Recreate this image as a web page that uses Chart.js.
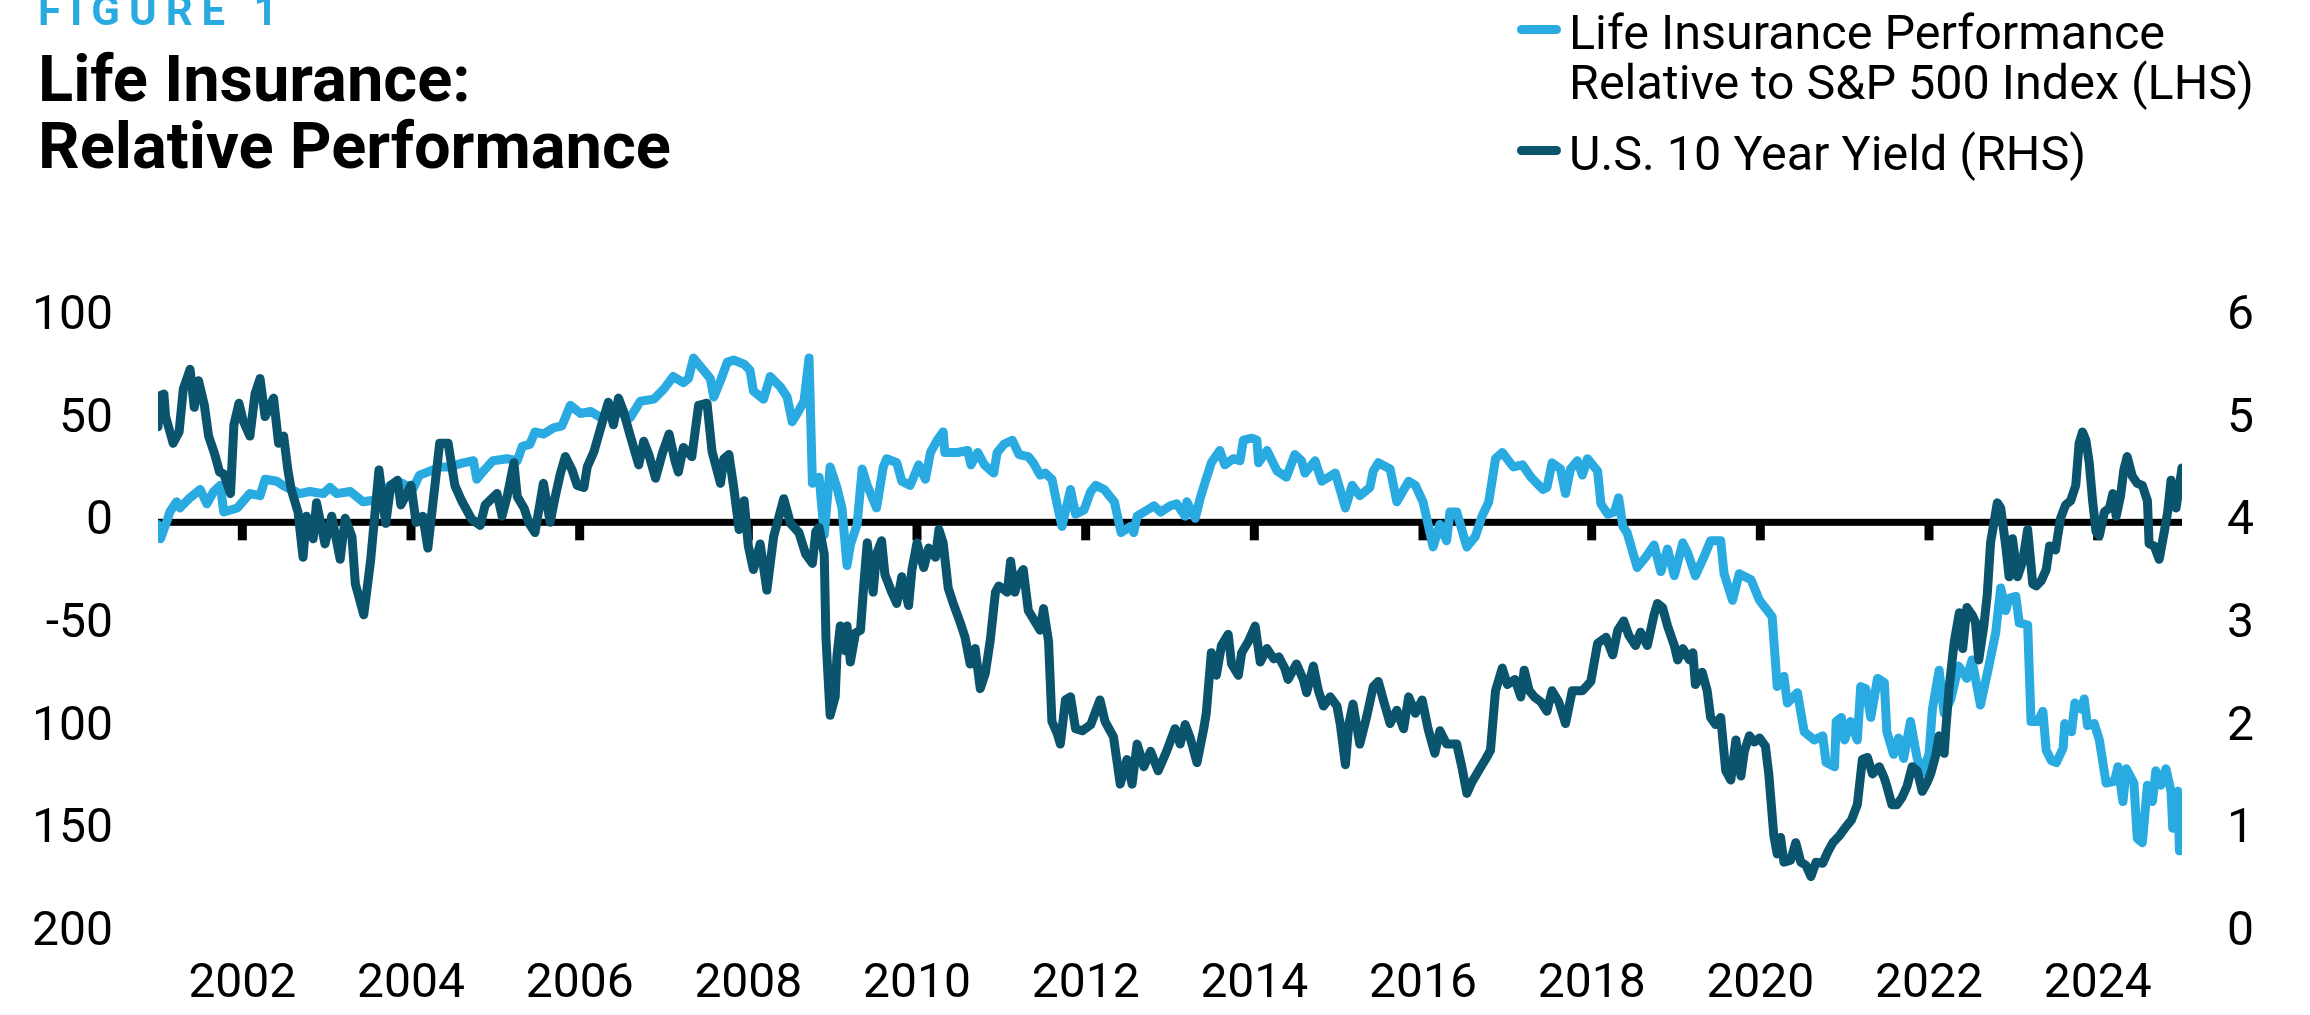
<!DOCTYPE html>
<html>
<head>
<meta charset="utf-8">
<title>Life Insurance: Relative Performance</title>
<script src="https://cdn.jsdelivr.net/npm/chart.js@4.4.1/dist/chart.umd.min.js"></script>
<style>
    body { margin: 0; background: #fff; }
    #wrap { position: relative; width: 2310px; height: 1015px; overflow: hidden; font-family: Roboto, sans-serif; }
    #lifechart { position: absolute; left: 0; top: 0; }
    .fig { position: absolute; left: 38px; top: -10px; font-size: 42px; line-height: 42px; font-weight: 700; letter-spacing: 9px; color: #29abe2; }
    .title { position: absolute; left: 38px; top: 46px; font-size: 65px; line-height: 67px; font-weight: 700; color: #000; }
    .legend { position: absolute; left: 1569px; font-size: 48.5px; line-height: 50px; color: #000; }
    .swatch { position: absolute; width: 44px; height: 9px; border-radius: 4.5px; }
</style>
</head>
<body>
<div id="wrap">
    <canvas id="lifechart" width="2310" height="1015"></canvas>
    <div class="fig">FIGURE 1</div>
    <div class="title">Life Insurance:<br>Relative Performance</div>
    <div class="swatch" style="left:1517px; top:25px; background:#29abe2"></div>
    <div class="legend" style="top:8px">Life Insurance Performance<br>Relative to S&amp;P 500 Index (LHS)</div>
    <div class="swatch" style="left:1517px; top:146px; background:#0b546e"></div>
    <div class="legend" style="top:129px">U.S. 10 Year Yield (RHS)</div>
</div>

<script>
// values
const lifeYears = [
    2001.00, 2001.03, 2001.10, 2001.14, 2001.22, 2001.26, 2001.38, 2001.50, 2001.58, 2001.66, 2001.74, 2001.78, 2001.94,
    2002.09, 2002.21, 2002.27, 2002.41, 2002.48, 2002.68, 2002.80, 2002.96,
    2003.04, 2003.12, 2003.28, 2003.43, 2003.60, 2003.75, 2003.90,
    2004.02, 2004.10, 2004.23, 2004.35, 2004.46, 2004.62, 2004.74, 2004.78, 2004.86, 2004.97,
    2005.14, 2005.26, 2005.32, 2005.41, 2005.47, 2005.57, 2005.69, 2005.79, 2005.89,
    2006.01, 2006.13, 2006.25, 2006.36, 2006.52, 2006.60, 2006.72, 2006.88,
    2007.00, 2007.11, 2007.23, 2007.29, 2007.35, 2007.47, 2007.55, 2007.59, 2007.67, 2007.75, 2007.83, 2007.95,
    2008.02, 2008.06, 2008.18, 2008.26, 2008.38, 2008.46, 2008.52, 2008.58, 2008.66, 2008.72, 2008.76, 2008.84, 2008.90, 2008.97,
    2009.05, 2009.11, 2009.17, 2009.21, 2009.29, 2009.35, 2009.41, 2009.52, 2009.60, 2009.64, 2009.76, 2009.82, 2009.92,
    2010.02, 2010.10, 2010.16, 2010.24, 2010.31, 2010.33, 2010.48, 2010.60, 2010.64, 2010.72, 2010.80, 2010.91, 2010.95,
    2011.03, 2011.13, 2011.21, 2011.32, 2011.38, 2011.46, 2011.52, 2011.60, 2011.66, 2011.72, 2011.82, 2011.88, 2011.98,
    2012.06, 2012.12, 2012.22, 2012.34, 2012.42, 2012.53, 2012.57, 2012.61, 2012.73, 2012.81, 2012.89,
    2013.00, 2013.08, 2013.18, 2013.20, 2013.30, 2013.36, 2013.42, 2013.49, 2013.59, 2013.65, 2013.75, 2013.83, 2013.87, 2013.97,
    2014.03, 2014.05, 2014.15, 2014.27, 2014.38, 2014.48, 2014.56, 2014.60, 2014.72, 2014.80, 2014.96,
    2015.08, 2015.16, 2015.25, 2015.37, 2015.41, 2015.47, 2015.61, 2015.69, 2015.83, 2015.91,
    2016.00, 2016.12, 2016.20, 2016.28, 2016.32, 2016.40, 2016.52, 2016.62, 2016.70, 2016.78, 2016.86, 2016.94,
    2017.07, 2017.18, 2017.28, 2017.42, 2017.47, 2017.53, 2017.63, 2017.69, 2017.75, 2017.83, 2017.89, 2017.95,
    2018.07, 2018.11, 2018.19, 2018.27, 2018.32, 2018.37, 2018.42, 2018.54, 2018.64, 2018.74, 2018.82, 2018.90, 2018.98,
    2019.08, 2019.14, 2019.23, 2019.33, 2019.41, 2019.53, 2019.57, 2019.67, 2019.75, 2019.89, 2019.99,
    2020.14, 2020.20, 2020.28, 2020.32, 2020.44, 2020.52, 2020.64, 2020.74, 2020.78, 2020.88, 2020.90, 2020.96,
    2021.00, 2021.07, 2021.15, 2021.19, 2021.25, 2021.31, 2021.39, 2021.47, 2021.50, 2021.58, 2021.64, 2021.70, 2021.78, 2021.86, 2021.92,
    2022.00, 2022.04, 2022.12, 2022.18, 2022.26, 2022.35, 2022.45, 2022.51, 2022.61, 2022.71, 2022.79, 2022.85, 2022.91, 2022.95,
    2023.03, 2023.07, 2023.17, 2023.21, 2023.29, 2023.35, 2023.39, 2023.45, 2023.51, 2023.59, 2023.61, 2023.69, 2023.73, 2023.81, 2023.84, 2023.88, 2023.96,
    2024.02, 2024.10, 2024.20, 2024.24, 2024.30, 2024.34, 2024.43, 2024.47, 2024.53, 2024.59, 2024.65, 2024.69, 2024.75, 2024.81, 2024.87, 2024.89, 2024.95, 2024.97, 2025.00
];
const lifeValues = [
    -1, -8, 0, 5, 10, 7, 12, 16, 9, 15, 18, 5, 7,
    14, 13, 21, 20, 18, 14, 15, 14,
    17, 14, 15, 10, 11, 18, 19,
    16, 23, 25, 27, 27, 29, 30, 21, 25, 30,
    31, 30, 37, 38, 44, 43, 46, 47, 57,
    53, 54, 51, 53, 53, 51, 59, 60,
    65, 71, 68, 70, 80, 74, 70, 61, 69, 78, 79, 77,
    74, 64, 60, 71, 66, 61, 49, 53, 59, 80, 19, 22, -6, 27,
    17, 7, -21, -11, -1, 26, 18, 7, 27, 31, 29, 20, 18,
    28, 21, 34, 40, 44, 34, 34, 35, 28, 34, 28, 24, 34,
    38, 40, 33, 32, 29, 23, 24, 21, 9, -2, 16, 4, 6,
    15, 18, 16, 10, -5, -2, -5, 3, 6, 8, 5,
    8, 9, 3, 10, 2, 12, 20, 29, 35, 28, 31, 30, 40, 41,
    40, 29, 35, 25, 22, 33, 30, 24, 30, 20, 24,
    7, 18, 13, 17, 25, 29, 26, 10, 20, 18,
    10, -12, -1, -9, 5, 5, -12, -7, 3, 10, 31, 34,
    27, 28, 22, 16, 17, 29, 26, 14, 26, 30, 23, 31,
    25, 9, 4, 5, 12, -2, -5, -22, -17, -11, -24, -13, -26,
    -10, -15, -26, -17, -9, -9, -25, -38, -25, -28, -38,
    -46, -80, -75, -88, -83, -102, -106, -104, -117, -119, -97, -95,
    -106, -97, -106, -80, -81, -95, -76, -78, -102, -113, -105, -115, -97, -115, -122,
    -113, -91, -72, -93, -86, -70, -76, -67, -89, -70, -54, -32, -43, -37,
    -36, -49, -50, -97, -97, -92, -111, -116, -117, -110, -98, -102, -88, -91, -86, -99, -98,
    -106, -127, -126, -119, -136, -120, -127, -154, -156, -128, -136, -121, -128, -120, -131, -149, -131, -160, -157
];

const yieldYears = [
    2001.00, 2001.02, 2001.07, 2001.09, 2001.18, 2001.25, 2001.30, 2001.38, 2001.43, 2001.48, 2001.55, 2001.60, 2001.67, 2001.73, 2001.78, 2001.86, 2001.90, 2001.96,
    2002.01, 2002.09, 2002.15, 2002.21, 2002.27, 2002.37, 2002.43, 2002.49, 2002.54, 2002.58, 2002.66, 2002.72, 2002.76, 2002.84, 2002.88, 2002.98,
    2003.06, 2003.16, 2003.22, 2003.30, 2003.34, 2003.44, 2003.52, 2003.62, 2003.70, 2003.76, 2003.84, 2003.88,
    2004.00, 2004.06, 2004.14, 2004.20, 2004.34, 2004.44, 2004.52, 2004.60, 2004.72, 2004.82, 2004.88,
    2005.02, 2005.08, 2005.14, 2005.22, 2005.26, 2005.34, 2005.40, 2005.47, 2005.57, 2005.65, 2005.71, 2005.77, 2005.83, 2005.91, 2005.97,
    2006.05, 2006.09, 2006.17, 2006.26, 2006.34, 2006.40, 2006.46, 2006.52, 2006.58, 2006.64, 2006.70, 2006.76, 2006.82, 2006.90, 2006.98,
    2007.06, 2007.13, 2007.17, 2007.23, 2007.33, 2007.41, 2007.51, 2007.57, 2007.67, 2007.71, 2007.77, 2007.83, 2007.89, 2007.95,
    2008.00, 2008.06, 2008.14, 2008.22, 2008.30, 2008.42, 2008.50, 2008.60, 2008.68, 2008.76, 2008.80, 2008.84, 2008.90, 2008.92, 2008.97,
    2009.03, 2009.05, 2009.09, 2009.15, 2009.17, 2009.21, 2009.27, 2009.33, 2009.37, 2009.41, 2009.48, 2009.52, 2009.58, 2009.62, 2009.70, 2009.76, 2009.82, 2009.90, 2009.94,
    2010.00, 2010.08, 2010.14, 2010.22, 2010.26, 2010.31, 2010.37, 2010.43, 2010.51, 2010.57, 2010.63, 2010.69, 2010.75, 2010.81, 2010.87, 2010.93, 2010.97,
    2011.07, 2011.11, 2011.16, 2011.22, 2011.26, 2011.32, 2011.38, 2011.46, 2011.50, 2011.56, 2011.60, 2011.66, 2011.70, 2011.76, 2011.82, 2011.88, 2011.96,
    2012.06, 2012.17, 2012.23, 2012.33, 2012.41, 2012.49, 2012.55, 2012.61, 2012.69, 2012.77, 2012.86, 2012.96,
    2013.06, 2013.12, 2013.18, 2013.24, 2013.32, 2013.40, 2013.43, 2013.49, 2013.55, 2013.61, 2013.69, 2013.73, 2013.81, 2013.85, 2013.93,
    2014.01, 2014.07, 2014.15, 2014.23, 2014.29, 2014.36, 2014.40, 2014.50, 2014.58, 2014.62, 2014.70, 2014.76, 2014.82, 2014.90, 2014.98,
    2015.02, 2015.08, 2015.12, 2015.17, 2015.25, 2015.33, 2015.41, 2015.47, 2015.53, 2015.61, 2015.69, 2015.77, 2015.83, 2015.91, 2015.99,
    2016.06, 2016.14, 2016.20, 2016.28, 2016.40, 2016.46, 2016.52, 2016.58, 2016.66, 2016.74, 2016.80, 2016.86, 2016.94,
    2017.00, 2017.09, 2017.16, 2017.20, 2017.26, 2017.32, 2017.40, 2017.47, 2017.53, 2017.61, 2017.69, 2017.77, 2017.89, 2017.99,
    2018.07, 2018.17, 2018.25, 2018.31, 2018.38, 2018.44, 2018.52, 2018.58, 2018.66, 2018.74, 2018.78, 2018.84, 2018.90, 2018.98,
    2019.02, 2019.08, 2019.16, 2019.20, 2019.23, 2019.31, 2019.37, 2019.41, 2019.47, 2019.53, 2019.59, 2019.65, 2019.71, 2019.77, 2019.81, 2019.87, 2019.93, 2019.99,
    2020.06, 2020.10, 2020.16, 2020.20, 2020.24, 2020.28, 2020.36, 2020.42, 2020.48, 2020.54, 2020.60, 2020.66, 2020.74, 2020.80, 2020.86, 2020.94,
    2021.01, 2021.08, 2021.15, 2021.21, 2021.27, 2021.33, 2021.41, 2021.47, 2021.50, 2021.56, 2021.62, 2021.68, 2021.74, 2021.80, 2021.86, 2021.92, 2021.98,
    2022.02, 2022.08, 2022.12, 2022.18, 2022.20, 2022.24, 2022.30, 2022.36, 2022.40, 2022.45, 2022.51, 2022.55, 2022.59, 2022.65, 2022.69, 2022.73, 2022.81, 2022.85, 2022.91, 2022.95, 2022.99,
    2023.05, 2023.11, 2023.17, 2023.23, 2023.27, 2023.33, 2023.39, 2023.43, 2023.50, 2023.56, 2023.62, 2023.68, 2023.74, 2023.78, 2023.82, 2023.86, 2023.90, 2023.94, 2023.98,
    2024.02, 2024.08, 2024.14, 2024.18, 2024.22, 2024.27, 2024.31, 2024.35, 2024.41, 2024.47, 2024.53, 2024.59, 2024.61, 2024.67, 2024.73, 2024.79, 2024.83, 2024.87, 2024.93, 2025.00
];
const yieldValues = [
    4.93, 5.23, 5.25, 5.03, 4.77, 4.88, 5.30, 5.49, 5.12, 5.38, 5.14, 4.84, 4.67, 4.49, 4.47, 4.28, 4.95, 5.16,
    4.99, 4.84, 5.25, 5.40, 5.03, 5.21, 4.77, 4.84, 4.51, 4.32, 4.10, 3.66, 4.06, 3.84, 4.19, 3.79,
    4.06, 3.64, 4.04, 3.86, 3.40, 3.10, 3.62, 4.51, 3.99, 4.36, 4.41, 4.17,
    4.36, 4.00, 4.06, 3.75, 4.77, 4.77, 4.36, 4.21, 4.03, 3.97, 4.17,
    4.28, 4.06, 4.25, 4.58, 4.25, 4.14, 3.99, 3.90, 4.38, 4.00, 4.25, 4.47, 4.64, 4.51, 4.36,
    4.34, 4.54, 4.69, 4.95, 5.17, 4.95, 5.21, 5.08, 4.90, 4.73, 4.56, 4.79, 4.66, 4.43, 4.67,
    4.86, 4.60, 4.49, 4.73, 4.64, 5.14, 5.16, 4.69, 4.38, 4.62, 4.66, 4.32, 3.93, 4.21,
    3.77, 3.54, 3.79, 3.34, 3.86, 4.23, 3.99, 3.90, 3.69, 3.60, 3.91, 3.95, 3.69, 2.88, 2.12,
    2.30, 2.69, 2.99, 2.75, 2.99, 2.64, 2.92, 2.95, 3.40, 3.80, 3.32, 3.69, 3.82, 3.49, 3.32, 3.21, 3.47, 3.19, 3.54,
    3.80, 3.56, 3.75, 3.66, 3.93, 3.80, 3.36, 3.21, 3.03, 2.88, 2.62, 2.77, 2.38, 2.53, 2.86, 3.32, 3.38,
    3.32, 3.62, 3.32, 3.49, 3.54, 3.14, 3.06, 2.95, 3.16, 2.84, 2.06, 1.95, 1.84, 2.27, 2.30, 1.99, 1.97,
    2.03, 2.27, 2.06, 1.91, 1.45, 1.69, 1.45, 1.84, 1.62, 1.77, 1.58, 1.77,
    1.99, 1.84, 2.03, 1.90, 1.66, 1.99, 2.14, 2.73, 2.51, 2.80, 2.91, 2.62, 2.51, 2.73, 2.84,
    2.99, 2.64, 2.77, 2.67, 2.69, 2.58, 2.47, 2.62, 2.47, 2.34, 2.60, 2.36, 2.21, 2.30, 2.21,
    2.03, 1.64, 2.03, 2.23, 1.84, 2.10, 2.40, 2.45, 2.27, 2.04, 2.17, 1.99, 2.30, 2.14, 2.27,
    1.99, 1.75, 1.97, 1.84, 1.84, 1.62, 1.36, 1.47, 1.58, 1.69, 1.78, 2.36, 2.58,
    2.42, 2.47, 2.30, 2.56, 2.36, 2.30, 2.25, 2.16, 2.36, 2.25, 2.04, 2.36, 2.36, 2.45,
    2.82, 2.88, 2.71, 2.95, 3.04, 2.90, 2.80, 2.93, 2.80, 3.10, 3.21, 3.17, 2.99, 2.80,
    2.66, 2.77, 2.66, 2.73, 2.42, 2.54, 2.36, 2.10, 2.03, 2.10, 1.58, 1.49, 1.88, 1.53, 1.77, 1.92, 1.86, 1.90,
    1.82, 1.55, 0.95, 0.77, 0.93, 0.69, 0.71, 0.88, 0.69, 0.66, 0.55, 0.69, 0.68, 0.79, 0.88, 0.95,
    1.03, 1.10, 1.25, 1.69, 1.71, 1.55, 1.62, 1.51, 1.43, 1.25, 1.25, 1.32, 1.43, 1.62, 1.58, 1.38, 1.47,
    1.55, 1.73, 1.92, 1.75, 1.99, 2.40, 2.84, 3.12, 2.77, 3.17, 3.10, 3.03, 2.66, 2.99, 3.29, 3.80, 4.19, 4.14, 3.77, 3.47, 3.84,
    3.47, 3.62, 3.93, 3.40, 3.38, 3.43, 3.54, 3.77, 3.73, 4.04, 4.17, 4.21, 4.36, 4.77, 4.88, 4.80, 4.58, 4.21, 3.91,
    3.87, 4.10, 4.14, 4.28, 4.06, 4.25, 4.51, 4.64, 4.45, 4.38, 4.36, 4.21, 3.79, 3.77, 3.64, 3.91, 4.10, 4.41, 4.14, 4.53
];

const yearTicks = [2002, 2004, 2006, 2008, 2010, 2012, 2014, 2016, 2018, 2020, 2022, 2024];
const leftTicks = [-200, -150, -100, -50, 0, 50, 100];
const leftTickLabels = ['200', '150', '100', '-50', '0', '50', '100'];
const rightTicks = [0, 1, 2, 3, 4, 5, 6];

function toPoints(xs, ys) {
    return xs.map(function (x, i) { return { x: x, y: ys[i] }; });
}

// thick zero line with small year ticks hanging under it
const zeroLine = {
    id: 'zeroLine',
    beforeDatasetsDraw(chart) {
        const { ctx, chartArea, scales } = chart;
        const y0 = scales.y.getPixelForValue(0);
        ctx.save();
        ctx.fillStyle = '#000';
        ctx.fillRect(chartArea.left, y0 - 3.5, chartArea.right - chartArea.left, 7);
        yearTicks.forEach(function (yr) {
            const x = scales.x.getPixelForValue(yr);
            ctx.fillRect(x - 4.5, y0, 9, 18);
        });
        ctx.restore();
    }
};

Chart.defaults.font.family = 'Roboto';
Chart.defaults.color = '#000';

var ctx = document.getElementById('lifechart');
var lifeChart = new Chart(ctx, {
    type: 'line',
    data: {
        datasets: [{
            label: 'U.S. 10 Year Yield (RHS)',
            data: toPoints(yieldYears, yieldValues),
            yAxisID: 'y1',
            borderColor: '#0b546e',
            borderWidth: 9,
            order: 0
        },
        {
            label: 'Life Insurance Performance Relative to S&P 500 Index (LHS)',
            data: toPoints(lifeYears, lifeValues),
            yAxisID: 'y',
            borderColor: '#29abe2',
            borderWidth: 9,
            order: 1
        }]
    },
    options: {
        responsive: false,
        animation: false,
        elements: {
            point: { radius: 0 },
            line: { tension: 0, borderJoinStyle: 'round', borderCapStyle: 'round' }
        },
        layout: {
            padding: { top: 317, left: 0, right: 0, bottom: 0 }
        },
        plugins: {
            legend: { display: false },
            tooltip: { enabled: false }
        },
        scales: {
            x: {
                type: 'linear',
                position: 'bottom',
                min: 2001,
                max: 2025,
                grid: { display: false, drawTicks: false },
                border: { display: false },
                afterBuildTicks: function (axis) {
                    axis.ticks = yearTicks.map(function (v) { return { value: v }; });
                },
                afterFit: function (axis) { axis.height = 82; },
                ticks: {
                    autoSkip: false,
                    maxRotation: 0,
                    padding: 23,
                    font: { size: 48 },
                    callback: function (v) { return String(v); }
                }
            },
            y: {
                position: 'left',
                min: -200,
                max: 100,
                grid: { display: false, drawTicks: false },
                border: { display: false },
                afterBuildTicks: function (axis) {
                    axis.ticks = leftTicks.map(function (v) { return { value: v }; });
                },
                afterFit: function (axis) { axis.width = 158; },
                ticks: {
                    padding: 45,
                    font: { size: 48 },
                    callback: function (v) { return leftTickLabels[leftTicks.indexOf(v)]; }
                }
            },
            y1: {
                position: 'right',
                min: 0,
                max: 6,
                grid: { display: false, drawTicks: false },
                border: { display: false },
                afterBuildTicks: function (axis) {
                    axis.ticks = rightTicks.map(function (v) { return { value: v }; });
                },
                afterFit: function (axis) { axis.width = 128; },
                ticks: {
                    padding: 45,
                    font: { size: 48 },
                    callback: function (v) { return String(v); }
                }
            }
        }
    },
    plugins: [zeroLine]
});
</script>
</body>
</html>
